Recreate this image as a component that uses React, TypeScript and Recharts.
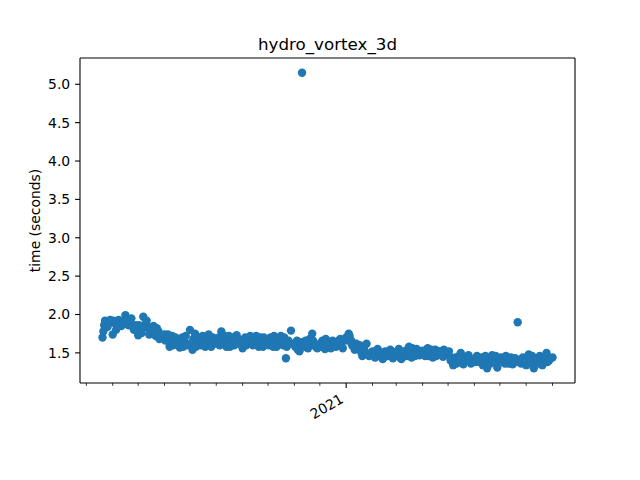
import { ScatterChart, Scatter, XAxis, YAxis } from "recharts";

// nightly-ish benchmark runs
const dates = [
  "2020-03-20", "2020-03-21", "2020-03-22", "2020-03-23", "2020-03-25", "2020-03-26", "2020-03-28", "2020-03-29",
  "2020-04-01", "2020-04-02", "2020-04-04", "2020-04-05", "2020-04-07", "2020-04-08", "2020-04-10", "2020-04-11", "2020-04-13", "2020-04-14", "2020-04-16", "2020-04-17", "2020-04-19", "2020-04-20", "2020-04-22", "2020-04-23", "2020-04-25", "2020-04-26", "2020-04-28",
  "2020-05-01", "2020-05-02", "2020-05-04", "2020-05-05", "2020-05-07", "2020-05-08", "2020-05-10", "2020-05-11", "2020-05-13", "2020-05-14", "2020-05-16", "2020-05-17", "2020-05-19", "2020-05-20", "2020-05-22", "2020-05-23", "2020-05-25", "2020-05-26", "2020-05-28",
  "2020-06-01", "2020-06-02", "2020-06-04", "2020-06-05", "2020-06-07", "2020-06-08", "2020-06-10", "2020-06-11", "2020-06-13", "2020-06-14", "2020-06-16", "2020-06-17", "2020-06-19", "2020-06-20", "2020-06-22", "2020-06-23", "2020-06-25", "2020-06-26", "2020-06-28",
  "2020-07-01", "2020-07-02", "2020-07-04", "2020-07-05", "2020-07-07", "2020-07-08", "2020-07-10", "2020-07-11", "2020-07-13", "2020-07-14", "2020-07-16", "2020-07-17", "2020-07-19", "2020-07-20", "2020-07-22", "2020-07-23", "2020-07-25", "2020-07-26", "2020-07-28",
  "2020-08-01", "2020-08-02", "2020-08-04", "2020-08-05", "2020-08-07", "2020-08-08", "2020-08-10", "2020-08-11", "2020-08-13", "2020-08-14", "2020-08-16", "2020-08-17", "2020-08-19", "2020-08-20", "2020-08-22", "2020-08-23", "2020-08-25", "2020-08-26", "2020-08-28",
  "2020-09-01", "2020-09-02", "2020-09-04", "2020-09-05", "2020-09-07", "2020-09-08", "2020-09-10", "2020-09-11", "2020-09-13", "2020-09-14", "2020-09-16", "2020-09-17", "2020-09-19", "2020-09-20", "2020-09-22", "2020-09-23", "2020-09-25", "2020-09-26", "2020-09-28",
  "2020-10-01", "2020-10-02", "2020-10-04", "2020-10-05", "2020-10-07", "2020-10-08", "2020-10-10", "2020-10-11", "2020-10-13", "2020-10-14", "2020-10-16", "2020-10-17", "2020-10-19", "2020-10-20", "2020-10-22", "2020-10-23", "2020-10-25", "2020-10-26", "2020-10-28",
  "2020-11-01", "2020-11-02", "2020-11-04", "2020-11-05", "2020-11-07", "2020-11-08", "2020-11-10", "2020-11-11", "2020-11-13", "2020-11-14", "2020-11-16", "2020-11-17", "2020-11-19", "2020-11-20", "2020-11-22", "2020-11-23", "2020-11-25", "2020-11-26", "2020-11-28",
  "2020-12-01", "2020-12-02", "2020-12-04", "2020-12-05", "2020-12-07", "2020-12-08", "2020-12-10", "2020-12-11", "2020-12-13", "2020-12-14", "2020-12-16", "2020-12-17", "2020-12-19", "2020-12-20", "2020-12-22", "2020-12-23", "2020-12-25", "2020-12-26", "2020-12-28",
  "2021-01-01", "2021-01-02", "2021-01-04", "2021-01-05", "2021-01-07", "2021-01-08", "2021-01-10", "2021-01-11", "2021-01-13", "2021-01-14", "2021-01-16", "2021-01-17", "2021-01-19", "2021-01-20", "2021-01-22", "2021-01-23", "2021-01-25", "2021-01-26", "2021-01-28",
  "2021-02-01", "2021-02-02", "2021-02-04", "2021-02-05", "2021-02-07", "2021-02-08", "2021-02-10", "2021-02-11", "2021-02-13", "2021-02-14", "2021-02-16", "2021-02-17", "2021-02-19", "2021-02-20", "2021-02-22", "2021-02-23", "2021-02-25", "2021-02-26", "2021-02-28",
  "2021-03-01", "2021-03-02", "2021-03-04", "2021-03-05", "2021-03-07", "2021-03-08", "2021-03-10", "2021-03-11", "2021-03-13", "2021-03-14", "2021-03-16", "2021-03-17", "2021-03-19", "2021-03-20", "2021-03-22", "2021-03-23", "2021-03-25", "2021-03-26", "2021-03-28",
  "2021-04-01", "2021-04-02", "2021-04-04", "2021-04-05", "2021-04-07", "2021-04-08", "2021-04-10", "2021-04-11", "2021-04-13", "2021-04-14", "2021-04-16", "2021-04-17", "2021-04-19", "2021-04-20", "2021-04-22", "2021-04-23", "2021-04-25", "2021-04-26", "2021-04-28",
  "2021-05-01", "2021-05-02", "2021-05-04", "2021-05-05", "2021-05-07", "2021-05-08", "2021-05-10", "2021-05-11", "2021-05-13", "2021-05-14", "2021-05-16", "2021-05-17", "2021-05-19", "2021-05-20", "2021-05-22", "2021-05-23", "2021-05-25", "2021-05-26", "2021-05-28",
  "2021-06-01", "2021-06-02", "2021-06-04", "2021-06-05", "2021-06-07", "2021-06-08", "2021-06-10", "2021-06-11", "2021-06-13", "2021-06-14", "2021-06-16", "2021-06-17", "2021-06-19", "2021-06-20", "2021-06-22", "2021-06-23", "2021-06-25", "2021-06-26", "2021-06-28",
  "2021-07-01", "2021-07-02", "2021-07-04", "2021-07-05", "2021-07-07", "2021-07-08", "2021-07-10", "2021-07-11", "2021-07-13", "2021-07-14", "2021-07-16", "2021-07-17", "2021-07-19", "2021-07-20", "2021-07-22", "2021-07-23", "2021-07-25", "2021-07-26", "2021-07-28",
  "2021-08-01", "2021-08-02", "2021-08-04", "2021-08-05", "2021-08-07", "2021-08-08", "2021-08-10", "2021-08-11", "2021-08-13", "2021-08-14", "2021-08-16", "2021-08-17", "2021-08-19", "2021-08-20", "2021-08-22", "2021-08-23", "2021-08-25", "2021-08-26", "2021-08-28",
  "2021-09-01",
];

const seconds = [
  1.70, 1.78, 1.86, 1.92, 1.91, 1.84, 1.89, 1.93,
  1.74, 1.92, 1.88, 1.80, 1.85, 1.93, 1.90, 1.85, 1.87, 1.91, 1.99, 1.94, 1.92, 1.86, 1.88, 1.95, 1.84, 1.80, 1.86,
  1.73, 1.86, 1.80, 1.76, 1.97, 1.84, 1.88, 1.92, 1.82, 1.74, 1.76, 1.80, 1.85, 1.74, 1.72, 1.82, 1.78, 1.68, 1.70,
  1.74, 1.66, 1.68, 1.74, 1.58, 1.64, 1.72, 1.60, 1.62, 1.70, 1.66, 1.62, 1.57, 1.66, 1.70, 1.58, 1.64, 1.72, 1.60,
  1.80, 1.62, 1.54, 1.68, 1.75, 1.58, 1.66, 1.70, 1.60, 1.64, 1.72, 1.60, 1.58, 1.66, 1.68, 1.74, 1.64, 1.58, 1.70,
  1.62, 1.68, 1.70, 1.60, 1.78, 1.64, 1.66, 1.72, 1.58, 1.66, 1.72, 1.58, 1.64, 1.70, 1.60, 1.66, 1.73, 1.62, 1.67,
  1.56, 1.64, 1.70, 1.60, 1.65, 1.68, 1.72, 1.62, 1.60, 1.66, 1.68, 1.72, 1.62, 1.58, 1.70, 1.64, 1.58, 1.70, 1.66,
  1.64, 1.60, 1.70, 1.66, 1.58, 1.72, 1.68, 1.58, 1.62, 1.66, 1.72, 1.64, 1.60, 1.70, 1.43, 1.58, 1.66, 1.62, 1.79,
  1.62, 1.58, 1.66, 1.54, 1.52, 1.64, 5.15, 1.60, 1.58, 1.66, 1.64, 1.56, 1.68, 1.62, 1.75, 1.66, 1.60, 1.58, 1.56,
  1.62, 1.58, 1.66, 1.64, 1.55, 1.68, 1.64, 1.60, 1.58, 1.56, 1.66, 1.64, 1.62, 1.58, 1.60, 1.66, 1.68, 1.62, 1.56,
  1.70, 1.66, 1.75, 1.72, 1.66, 1.60, 1.58, 1.54, 1.62, 1.58, 1.55, 1.60, 1.50, 1.46, 1.58, 1.52, 1.62, 1.48, 1.46,
  1.52, 1.48, 1.44, 1.52, 1.55, 1.46, 1.48, 1.50, 1.42, 1.44, 1.52, 1.48, 1.46, 1.52, 1.54, 1.46, 1.43, 1.50, 1.50,
  1.48, 1.52, 1.55, 1.44, 1.42, 1.50, 1.52, 1.46, 1.46, 1.54, 1.58, 1.50, 1.44, 1.56, 1.50, 1.46, 1.55, 1.52, 1.47,
  1.53, 1.48, 1.46, 1.52, 1.56, 1.46, 1.50, 1.54, 1.44, 1.50, 1.54, 1.46, 1.48, 1.52, 1.52, 1.48, 1.45, 1.54, 1.50,
  1.47, 1.52, 1.40, 1.44, 1.34, 1.40, 1.44, 1.36, 1.38, 1.46, 1.50, 1.42, 1.35, 1.38, 1.42, 1.44, 1.47, 1.40, 1.36,
  1.42, 1.38, 1.46, 1.44, 1.38, 1.40, 1.44, 1.34, 1.36, 1.46, 1.30, 1.40, 1.42, 1.36, 1.47, 1.42, 1.38, 1.46, 1.31,
  1.40, 1.44, 1.42, 1.38, 1.36, 1.46, 1.44, 1.36, 1.40, 1.44, 1.35, 1.42, 1.43, 1.38, 1.90, 1.40, 1.38, 1.36, 1.44,
  1.34, 1.44, 1.48, 1.40, 1.38, 1.46, 1.30, 1.36, 1.42, 1.40, 1.36, 1.46, 1.44, 1.34, 1.38, 1.44, 1.50, 1.38, 1.40,
  1.44,
];

const monthTicks = [
  "2020-03-01", "2020-04-01", "2020-05-01", "2020-06-01", "2020-07-01", "2020-08-01",
  "2020-09-01", "2020-10-01", "2020-11-01", "2020-12-01", "2021-01-01", "2021-02-01",
  "2021-03-01", "2021-04-01", "2021-05-01", "2021-06-01", "2021-07-01", "2021-08-01",
  "2021-09-01",
];
const yearTick = "2021-01-01";
const yTicks = [1.5, 2.0, 2.5, 3.0, 3.5, 4.0, 4.5, 5.0];

const FONT = "DejaVu Sans, sans-serif";
const BLUE = "#1f77b4";

const toTime = (d: string) => Date.parse(d + "T00:00:00Z");

const points = dates.map((d, i) => ({ t: toTime(d), s: seconds[i] }));

// matplotlib-style 5% margins
const tMin = Math.min(...points.map((p) => p.t));
const tMax = Math.max(...points.map((p) => p.t));
const sMin = Math.min(...seconds);
const sMax = Math.max(...seconds);
const tPad = (tMax - tMin) * 0.05;
const sPad = (sMax - sMin) * 0.05;

const majorTime = toTime(yearTick);

function DateTick(props: any) {
  const { x, y, payload } = props;
  const major = payload.value === majorTime;
  const lx = x - 1.7;
  const ly = y + 18.8;
  return (
    <g>
      <line x1={x} x2={x} y1={y} y2={y + (major ? 4.9 : 2.8)} stroke="#000" strokeWidth={major ? 1.1 : 0.8} />
      {major && (
        <text x={lx} y={ly} textAnchor="end" transform={`rotate(-30 ${lx} ${ly})`} fontSize={13.9} fontFamily={FONT} fill="#000">
          2021
        </text>
      )}
    </g>
  );
}

const Dot = (props: any) => <circle cx={props.cx} cy={props.cy} r={4.2} fill={BLUE} />;

export default function App() {
  return (
    <div style={{ position: "absolute", left: 0, top: 0, width: 640, height: 480, background: "#fff" }}>
      <ScatterChart width={640} height={480} margin={{ top: 58, right: 65, bottom: 0, left: 0 }}>
        <XAxis
          dataKey="t"
          type="number"
          domain={[tMin - tPad, tMax + tPad]}
          allowDataOverflow
          ticks={monthTicks.map(toTime)}
          interval={0}
          tick={<DateTick />}
          tickLine={false}
          tickSize={0}
          tickMargin={0}
          height={97}
          axisLine={{ stroke: "#000", strokeWidth: 1.1 }}
        />
        <YAxis
          dataKey="s"
          type="number"
          domain={[sMin - sPad, sMax + sPad]}
          allowDataOverflow
          ticks={yTicks}
          interval={0}
          tickFormatter={(v: number) => v.toFixed(1)}
          width={80}
          tickSize={4.9}
          tickMargin={4.9}
          tick={{ fontSize: 13.9, fill: "#000", fontFamily: FONT }}
          tickLine={{ stroke: "#000", strokeWidth: 1.1 }}
          axisLine={{ stroke: "#000", strokeWidth: 1.1 }}
        />
        <Scatter data={points} dataKey="s" fill={BLUE} shape={Dot} isAnimationActive={false} />
      </ScatterChart>
      <svg width={640} height={480} style={{ position: "absolute", left: 0, top: 0, pointerEvents: "none" }}>
        <line x1={80} x2={575} y1={58} y2={58} stroke="#000" strokeWidth={1.1} />
        <line x1={575} x2={575} y1={58} y2={383} stroke="#000" strokeWidth={1.1} />
        <text x={327.5} y={50} textAnchor="middle" fontSize={16.7} fontFamily={FONT} fill="#000">
          hydro_vortex_3d
        </text>
        <text x={40} y={220.5} textAnchor="middle" transform="rotate(-90 40 220.5)" fontSize={13.9} fontFamily={FONT} fill="#000">
          time (seconds)
        </text>
      </svg>
    </div>
  );
}
